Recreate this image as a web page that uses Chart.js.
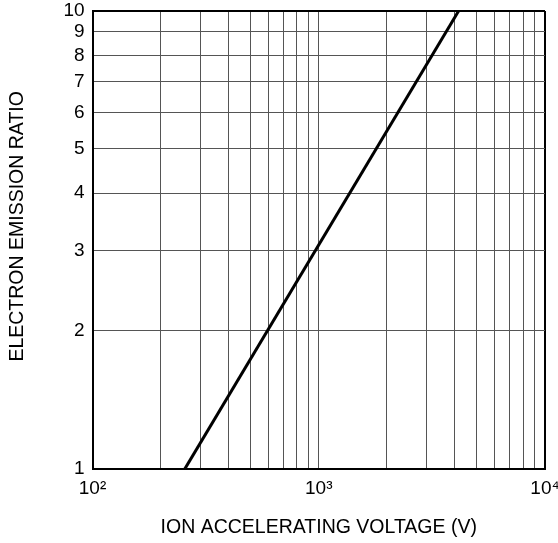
<!DOCTYPE html>
<html>
<head>
<meta charset="utf-8">
<script src="https://cdn.jsdelivr.net/npm/chart.js@4"></script>
<style>
  html, body { margin: 0; padding: 0; background: #fff; }
  #wrap { width: 558px; height: 543px; }
</style>
</head>
<body>
<div id="wrap"><canvas id="chart"></canvas></div>
<script>
// curve endpoints
const voltage = [256, 4150];
const ratio = [1, 10];

const xTicks = [100, 200, 300, 400, 500, 600, 700, 800, 900, 1000,
                2000, 3000, 4000, 5000, 6000, 7000, 8000, 9000, 10000];
const xLabels = { 100: '10²', 1000: '10³', 10000: '10⁴' };
const yTicks = [1, 2, 3, 4, 5, 6, 7, 8, 9, 10];

const family = "'Liberation Sans', Arial, sans-serif";
const tickFont = { family: family, size: 19, lineHeight: 1.2 };
const titleFont = { family: family, size: 19.5, lineHeight: 1.2 };
const gridColor = '#555';

new Chart(document.getElementById('chart'), {
    type: 'scatter',
    data: {
        datasets: [{
            data: voltage.map((v, i) => ({ x: v, y: ratio[i] })),
            showLine: true,
            borderColor: '#000',
            borderWidth: 3,
            pointRadius: 0
        }]
    },
    options: {
        responsive: true,
        maintainAspectRatio: false,
        animation: false,
        layout: { padding: { top: 11, right: 13, bottom: 0, left: 0 } },
        plugins: { legend: { display: false }, tooltip: { enabled: false } },
        scales: {
            x: {
                type: 'logarithmic',
                min: 100,
                max: 10000,
                afterBuildTicks: s => { s.ticks = xTicks.map(v => ({ value: v })); },
                afterFit: s => { s.paddingLeft = 0; s.paddingRight = 0; },
                ticks: {
                    autoSkip: false,
                    maxRotation: 0,
                    padding: 9,
                    color: '#000',
                    font: tickFont,
                    callback: v => xLabels[v] || ''
                },
                grid: {
                    drawTicks: false,
                    color: c => (c.tick && (c.tick.value === 10000 || c.tick.value === 100)) ? '#000' : gridColor,
                    lineWidth: c => (c.tick && c.tick.value === 10000) ? 2 : 1
                },
                border: { display: true, color: '#000', width: 2 },
                title: {
                    display: true,
                    text: 'ION ACCELERATING VOLTAGE (V)',
                    color: '#000',
                    font: titleFont,
                    padding: { top: 6, bottom: 4 }
                }
            },
            y: {
                type: 'logarithmic',
                min: 1,
                max: 10,
                afterBuildTicks: s => { s.ticks = yTicks.map(v => ({ value: v })); },
                afterFit: s => { s.paddingTop = 0; s.paddingBottom = 0; },
                ticks: {
                    autoSkip: false,
                    padding: 8,
                    color: '#000',
                    font: tickFont,
                    callback: v => String(v)
                },
                grid: {
                    drawTicks: false,
                    color: c => (c.tick && (c.tick.value === 10 || c.tick.value === 1)) ? '#000' : gridColor,
                    lineWidth: c => (c.tick && c.tick.value === 10) ? 2 : 1
                },
                border: { display: true, color: '#000', width: 2 },
                title: {
                    display: true,
                    // leading spaces nudge the title up, as in the source figure
                    text: '     ELECTRON EMISSION RATIO',
                    color: '#000',
                    font: titleFont,
                    padding: { top: 6, bottom: 26 }
                }
            }
        }
    }
});
</script>
</body>
</html>
